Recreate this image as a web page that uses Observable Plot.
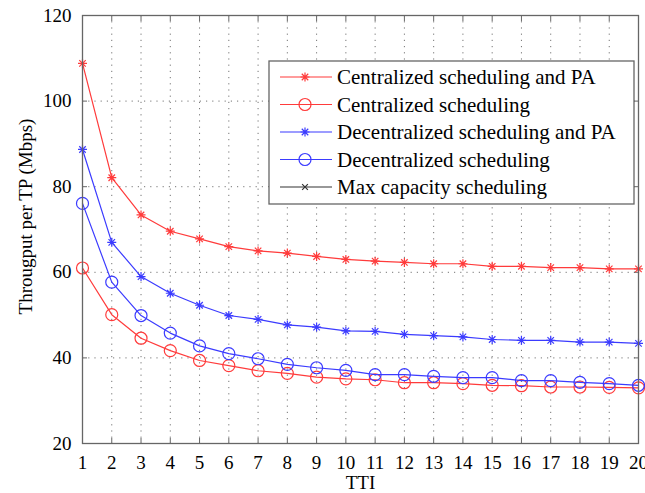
<!DOCTYPE html>
<html><head><meta charset="utf-8">
<script src="https://cdn.jsdelivr.net/npm/d3@7"></script>
<script src="https://cdn.jsdelivr.net/npm/@observablehq/plot@0.6"></script>
<style>body{margin:0;background:#fff}#chart{width:645px;height:493px}</style>
</head><body><div id="chart"></div>
<script>
const tti = [1,2,3,4,5,6,7,8,9,10,11,12,13,14,15,16,17,18,19,20];
const centralizedPA = [108.8,82.1,73.4,69.6,67.8,66.0,65.0,64.5,63.7,63.0,62.6,62.3,62.0,62.0,61.4,61.4,61.1,61.1,60.8,60.8];
const centralized = [61.0,50.1,44.6,41.7,39.4,38.2,37.0,36.4,35.5,35.1,34.9,34.2,34.2,34.0,33.6,33.5,33.2,33.2,33.1,33.0];
const decentralizedPA = [88.7,67.0,59.0,55.1,52.3,49.9,49.0,47.7,47.2,46.3,46.2,45.5,45.2,44.9,44.3,44.1,44.1,43.7,43.7,43.4];
const decentralized = [76.1,57.7,49.9,45.8,42.8,41.0,39.8,38.5,37.7,37.1,36.1,36.1,35.7,35.4,35.4,34.7,34.7,34.3,34.0,33.6];
const seriesNames = ["Centralized scheduling and PA","Centralized scheduling","Decentralized scheduling and PA","Decentralized scheduling","Max capacity scheduling"];
const yTicks = [20,40,60,80,100,120];
const xLabel = "TTI";
const yLabel = "Througput per TP (Mbps)";

const red = "#ff3b3b", blue = "#3b3bff", black = "#333";
const star8 = {draw(ctx, size){const r = Math.sqrt(size/Math.PI), d = r*0.72;
  ctx.moveTo(-r,0);ctx.lineTo(r,0);ctx.moveTo(0,-r);ctx.lineTo(0,r);
  ctx.moveTo(-d,-d);ctx.lineTo(d,d);ctx.moveTo(-d,d);ctx.lineTo(d,-d);}};
const cross = {draw(ctx,size){const d = Math.sqrt(size/Math.PI)*0.72;
  ctx.moveTo(-d,-d);ctx.lineTo(d,d);ctx.moveTo(-d,d);ctx.lineTo(d,-d);}};

const seriesDefs = [
  {name: seriesNames[0], values: centralizedPA, color: red, symbol: star8, r: 4.5},
  {name: seriesNames[1], values: centralized, color: red, symbol: "circle", r: 6},
  {name: seriesNames[2], values: decentralizedPA, color: blue, symbol: star8, r: 4.5},
  {name: seriesNames[3], values: decentralized, color: blue, symbol: "circle", r: 6},
  {name: seriesNames[4], values: [], color: black, symbol: cross, r: 4}
];
const rows = seriesDefs.flatMap(s => s.values.map((v,i) => ({series: s.name, x: tti[i], y: v})));

const font = "'Liberation Serif', 'Times New Roman', serif";
const gridStyle = {stroke: "#666", strokeOpacity: 0.9, strokeDasharray: "1.2,5"};

const marks = [
  Plot.gridX(tti, gridStyle),
  Plot.gridY(yTicks, gridStyle),
  Plot.axisX(tti, {anchor: "bottom", tickSize: -5, tickPadding: 17, fontSize: 19, label: null, stroke: "#666", fill: "#000"}),
  Plot.axisX(tti, {anchor: "top", tickSize: -5, text: null, label: null, stroke: "#666"}),
  Plot.axisY(yTicks, {anchor: "left", tickSize: -5, tickPadding: 16, fontSize: 19, label: null, stroke: "#666", fill: "#000"}),
  Plot.axisY(yTicks, {anchor: "right", tickSize: -5, text: null, label: null, stroke: "#666"}),
];
for (const s of seriesDefs) {
  const d = rows.filter(r => r.series === s.name);
  marks.push(Plot.line(d, {x: "x", y: "y", stroke: s.color, strokeWidth: 1.2}));
  marks.push(Plot.dot(d, {x: "x", y: "y", stroke: s.color, fill: "none", symbol: s.symbol, r: s.r, strokeWidth: 1.2}));
}
marks.push(Plot.frame({stroke: "#666", strokeWidth: 1.3}));
marks.push(Plot.text([xLabel], {frameAnchor: "bottom", dy: 45, fontSize: 19, fill: "#000"}));
marks.push(Plot.text([yLabel], {frameAnchor: "left", textAnchor: "middle", dx: -57, dy: -13, rotate: -90, fontSize: 19, fill: "#000"}));

const chart = Plot.plot({
  width: 645, height: 493,
  marginLeft: 82, marginRight: 7, marginTop: 15, marginBottom: 50,
  x: {domain: [1, 20]},
  y: {domain: [20, 120]},
  style: {fontFamily: font, color: "#000", background: "#fff"},
  marks
});
document.getElementById("chart").appendChild(chart);

// legend inside plot area
const svg = d3.select(chart);
const lg = svg.append("g").attr("font-family", font).attr("font-size", 21).attr("text-anchor", "start");
lg.append("rect").attr("x", 269).attr("y", 61).attr("width", 365).attr("height", 143)
  .attr("fill", "#fff").attr("stroke", "#666").attr("stroke-width", 1.3);
seriesDefs.forEach((s, i) => {
  const y = 77 + i * 27.5;
  lg.append("line").attr("x1", 280).attr("x2", 332).attr("y1", y).attr("y2", y)
    .attr("stroke", s.color).attr("stroke-width", 1.2);
  const sym = typeof s.symbol === "string" ? d3.symbolCircle : s.symbol;
  lg.append("path").attr("transform", `translate(305,${y})`)
    .attr("d", d3.symbol(sym, Math.PI * s.r * s.r)())
    .attr("fill", "none").attr("stroke", s.color).attr("stroke-width", 1.2);
  lg.append("text").attr("x", 337).attr("y", y).attr("dy", "0.35em").attr("fill", "#000").text(s.name);
});
</script></body></html>
